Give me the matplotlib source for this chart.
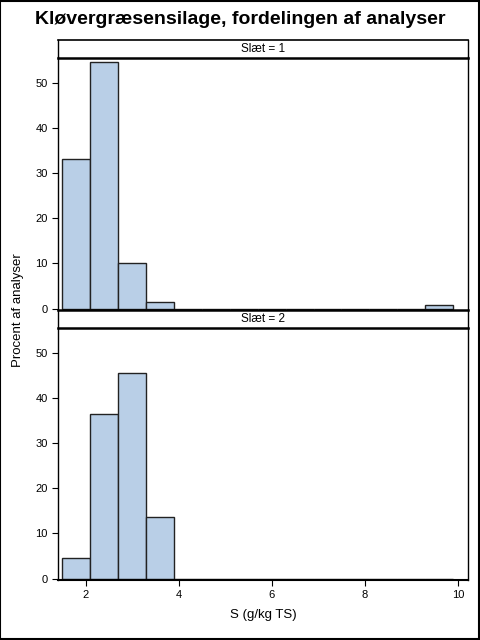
import matplotlib
matplotlib.use("Agg")
import matplotlib.pyplot as plt
from matplotlib.patches import Rectangle

plt.rcParams['font.family'] = ['Liberation Sans', 'DejaVu Sans']

# data
bin_mid = [1.8, 2.4, 3.0, 3.6, 4.2, 4.8, 5.4, 6.0, 6.6, 7.2, 7.8, 8.4, 9.0, 9.6]
bin_width = 0.6
pct_slaet1 = [33.1, 54.7, 10.1, 1.4, 0, 0, 0, 0, 0, 0, 0, 0, 0, 0.7]
pct_slaet2 = [4.5, 36.4, 45.5, 13.6, 0, 0, 0, 0, 0, 0, 0, 0, 0, 0]
panel_labels = ["Slæt = 1", "Slæt = 2"]
x_ticks = [2, 4, 6, 8, 10]
y_ticks = [0, 10, 20, 30, 40, 50]

W, H = 480, 640
fig = plt.figure(figsize=(4.8, 6.4), dpi=100)
fig.patch.set_facecolor('white')


def px_box(x0, y0, x1, y1):
    # pixel coords (from top-left) -> figure fraction
    return [x0 / W, 1 - y1 / H, (x1 - x0) / W, (y1 - y0) / H]


bar_color = '#B9CFE7'
left, right = 57.5, 468.5
panels = [(40, 57.5, 310, pct_slaet1), (310, 327.5, 580, pct_slaet2)]

for i, (s_top, a_top, a_bot, vals) in enumerate(panels):
    ax = fig.add_axes(px_box(left, a_top, right, a_bot))
    ax.set_facecolor('none')
    ax.bar(bin_mid, vals, width=bin_width, color=bar_color,
           edgecolor='#222222', linewidth=1.0)
    ax.set_xlim(1.398, 10.23)
    ax.set_ylim(-0.3, 55.6)
    ax.set_yticks(y_ticks)
    ax.tick_params(axis='y', labelsize=8, length=4, width=0.8, pad=3)
    for sp in ax.spines.values():
        sp.set_linewidth(1.0)
    ax.spines['top'].set_visible(False)
    if i == 0:
        ax.set_xticks([])
        ax.spines['bottom'].set_visible(False)
    else:
        ax.set_xticks(x_ticks)
        ax.tick_params(axis='x', labelsize=8, length=4, width=0.8, pad=3)
        ax.spines['bottom'].set_linewidth(1.5)
        ax.set_xlabel("S (g/kg TS)", fontsize=9.5, labelpad=7)

    # strip with panel label, drawn on top
    sax = fig.add_axes(px_box(left, s_top, right, a_top))
    sax.set_facecolor('none')
    sax.set_xticks([])
    sax.set_yticks([])
    for sp in sax.spines.values():
        sp.set_linewidth(1.0)
    sax.spines['bottom'].set_linewidth(1.8)
    sax.spines['top'].set_linewidth(1.2 if i == 0 else 1.8)
    sax.text(0.5, 0.5, panel_labels[i], ha='center', va='center',
             fontsize=8.5, transform=sax.transAxes)

fig.text(0.5, 1 - 20 / H, "Kløvergræsensilage, fordelingen af analyser",
         ha='center', va='center', fontsize=14, fontweight='bold')
fig.text(18 / W, 1 - 310 / H, "Procent af analyser", rotation=90,
         ha='center', va='center', fontsize=9.5)

fig.add_artist(Rectangle((0.001, 0.001), 0.997, 0.997, transform=fig.transFigure,
                         fill=False, edgecolor='black', linewidth=1.5))

fig.savefig("out.png", dpi=100)
